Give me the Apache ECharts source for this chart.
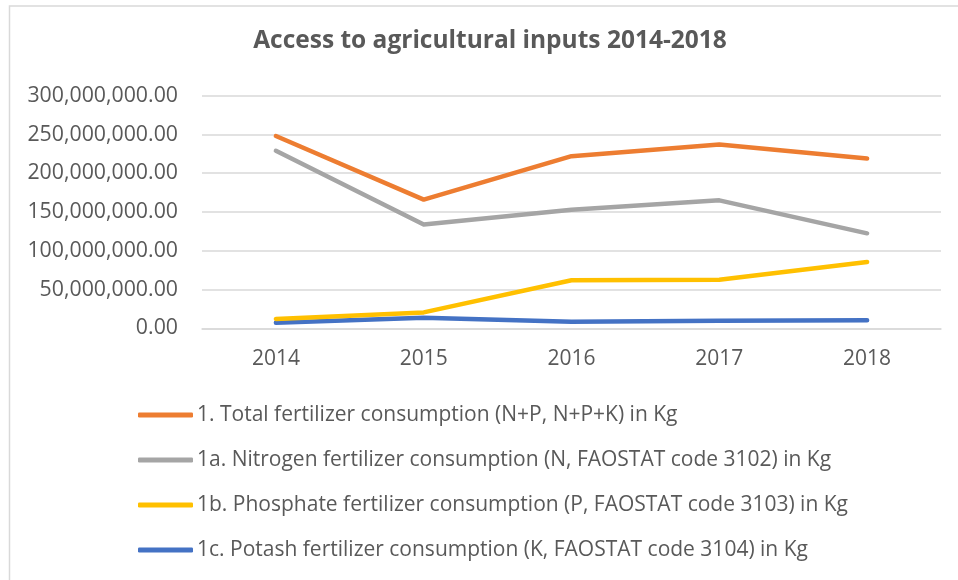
<!DOCTYPE html>
<html>
<head>
<meta charset="utf-8">
<script src="https://cdn.jsdelivr.net/npm/echarts@6/dist/echarts.min.js"></script>
<style>html,body{margin:0;padding:0;background:#fff}#c{width:958px;height:580px}</style>
</head>
<body>
<div id="c"></div>
<script>
const years = ['2014', '2015', '2016', '2017', '2018'];
const seriesNames = [
  '1. Total fertilizer consumption (N+P, N+P+K) in Kg',
  '1a. Nitrogen fertilizer consumption (N, FAOSTAT code 3102) in Kg',
  '1b. Phosphate fertilizer consumption (P, FAOSTAT code 3103) in Kg',
  '1c. Potash fertilizer consumption (K, FAOSTAT code 3104) in Kg'
];
const totalValues = [248000000, 166000000, 222000000, 237000000, 219000000];
const nitrogenValues = [229000000, 134000000, 153000000, 165000000, 122500000];
const phosphateValues = [12000000, 20500000, 62000000, 62500000, 85500000];
const potashValues = [7200000, 13500000, 8500000, 9800000, 10300000];
const colors = ['#ED7D31', '#A5A5A5', '#FFC000', '#4472C4'];

const FONT = 'Open Sans';
const allValues = [totalValues, nitrogenValues, phosphateValues, potashValues];

function fmt(v) {
  return v.toLocaleString('en-US', {minimumFractionDigits: 2, maximumFractionDigits: 2});
}

const chart = echarts.init(document.getElementById('c'), null, {renderer: 'canvas'});
chart.setOption({
  backgroundColor: '#fff',
  animation: false,
  graphic: [{
    type: 'rect',
    shape: {x: 9.5, y: 6, width: 1200, height: 1200},
    style: {fill: 'none', stroke: '#D9D9D9', lineWidth: 1.5},
    silent: true
  }],
  title: {
    text: 'Access to agricultural inputs 2014-2018',
    left: 490,
    textAlign: 'center',
    top: 29,
    padding: 0,
    textStyle: {fontFamily: FONT, fontSize: 24.5, fontWeight: 'bold', color: '#595959'}
  },
  grid: {left: 202, right: 17, top: 95.7, bottom: 251.7, containLabel: false},
  xAxis: {
    type: 'category',
    data: years,
    boundaryGap: true,
    axisLine: {show: true, lineStyle: {color: '#D9D9D9', width: 1.5}},
    axisTick: {show: false},
    axisLabel: {margin: 20, fontFamily: FONT, fontSize: 21, color: '#595959'}
  },
  yAxis: {
    type: 'value',
    min: 0, max: 300000000, interval: 50000000,
    axisLine: {show: false},
    axisTick: {show: false},
    splitLine: {lineStyle: {color: '#D9D9D9', width: 1.5}},
    axisLabel: {margin: 24, fontFamily: FONT, fontSize: 21.3, color: '#595959', formatter: fmt}
  },
  legend: {
    orient: 'vertical',
    left: 138,
    top: 403,
    padding: 0,
    itemGap: 21,
    itemWidth: 55,
    itemHeight: 5,
    icon: 'roundRect',
    textStyle: {fontFamily: FONT, fontSize: 21, color: '#595959', lineHeight: 24, padding: [0, 0, 0, -1]},
    data: seriesNames
  },
  series: seriesNames.map((n, i) => ({
    name: n,
    type: 'line',
    data: allValues[i],
    showSymbol: false,
    symbol: 'none',
    color: colors[i],
    lineStyle: {width: 4.5, color: colors[i], cap: 'round', join: 'round'},
    z: 10 - i
  }))
});
</script>
</body>
</html>
